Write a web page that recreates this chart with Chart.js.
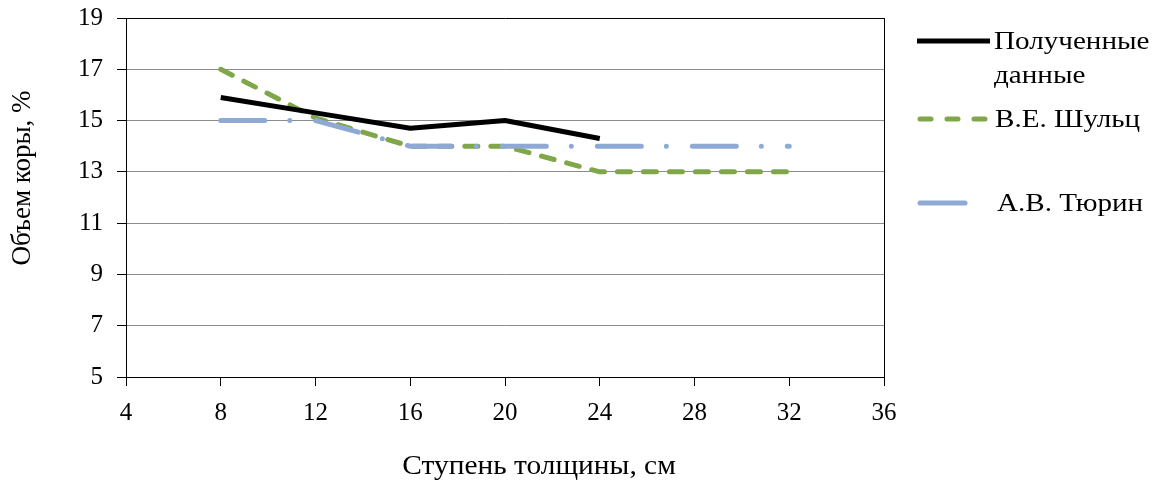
<!DOCTYPE html>
<html>
<head>
<meta charset="utf-8">
<script src="https://cdn.jsdelivr.net/npm/chart.js@4.4.1/dist/chart.umd.min.js"></script>
<style>
  html, body { margin: 0; padding: 0; background: #fff; }
  #chart-container { width: 1159px; height: 481px; }
</style>
</head>
<body>
<div id="chart-container"><canvas id="myChart" width="1159" height="481"></canvas></div>
<script>
// Data
const obtainedX = [8, 12, 16, 20, 24];
const obtainedY = [15.9, 15.3, 14.7, 15.0, 14.3];
const schultzX = [8, 12, 16, 20, 24, 28, 32];
const schultzY = [17, 15.1, 14, 14, 13, 13, 13];
const tyurinX = [8, 12, 16, 20, 24, 28, 32];
const tyurinY = [15, 15, 14, 14, 14, 14, 14];

const seriesNames = ['Полученные данные', 'В.Е. Шульц', 'А.В. Тюрин'];
const xTitle = 'Ступень толщины, см';
const yTitle = 'Объем коры, %';

const FONT = '"Liberation Serif", "Times New Roman", serif';
const GREEN = '#7fa648';
const BLUE = '#8fa9d5';

function toPoints(xs, ys) {
    return xs.map((x, i) => ({ x: x, y: ys[i] }));
}

// text a little wider than the font gives, like the original picture
function wideText(ctx, text, x, y, sx) {
    ctx.save();
    ctx.translate(x, y);
    ctx.scale(sx, 1);
    ctx.fillText(text, 0, 0);
    ctx.restore();
}

// draws the axis titles, the right frame edge and the legend
const extras = {
    id: 'extras',
    afterDraw(chart) {
        const ctx = chart.ctx;
        const area = chart.chartArea;
        ctx.save();

        // right side of the frame
        ctx.strokeStyle = '#000';
        ctx.lineWidth = 1;
        ctx.beginPath();
        const rx = Math.round(area.right) + 0.5;
        ctx.moveTo(rx, Math.round(area.top));
        ctx.lineTo(rx, Math.round(area.bottom) + 1);
        ctx.stroke();

        // axis titles
        ctx.fillStyle = '#000';
        ctx.font = '27px ' + FONT;
        ctx.textAlign = 'center';
        ctx.textBaseline = 'middle';
        wideText(ctx, xTitle, 539, 467, 1.09);
        ctx.save();
        ctx.translate(23, 178);
        ctx.rotate(-Math.PI / 2);
        ctx.fillText(yTitle, 0, 0);
        ctx.restore();

        // legend
        ctx.textAlign = 'left';
        ctx.font = '26px ' + FONT;
        ctx.lineWidth = 5;

        ctx.strokeStyle = '#000';
        ctx.lineCap = 'butt';
        ctx.beginPath();
        ctx.moveTo(917, 41);
        ctx.lineTo(990, 41);
        ctx.stroke();
        wideText(ctx, 'Полученные', 994, 42, 1.12);
        wideText(ctx, 'данные', 994, 76, 1.12);

        ctx.strokeStyle = GREEN;
        ctx.lineCap = 'round';
        ctx.setLineDash([11, 16]);
        ctx.beginPath();
        ctx.moveTo(920, 119);
        ctx.lineTo(985, 119);
        ctx.stroke();
        ctx.setLineDash([]);
        wideText(ctx, 'В.Е. Шульц', 995, 120, 1.12);

        ctx.strokeStyle = BLUE;
        ctx.beginPath();
        ctx.moveTo(920, 203);
        ctx.lineTo(965, 203);
        ctx.stroke();
        wideText(ctx, 'А.В. Тюрин', 997, 204, 1.12);

        ctx.restore();
    }
};

const ctx = document.getElementById('myChart').getContext('2d');
const chart = new Chart(ctx, {
    type: 'line',
    data: {
        datasets: [
            {
                label: seriesNames[0],
                data: toPoints(obtainedX, obtainedY),
                borderColor: '#000',
                borderWidth: 5,
                borderCapStyle: 'butt',
                borderJoinStyle: 'round',
                pointRadius: 0,
                tension: 0,
                order: 0
            },
            {
                label: seriesNames[1],
                data: toPoints(schultzX, schultzY),
                borderColor: GREEN,
                borderWidth: 5,
                borderDash: [13, 13],
                borderCapStyle: 'round',
                borderJoinStyle: 'round',
                pointRadius: 0,
                tension: 0,
                order: 2
            },
            {
                label: seriesNames[2],
                data: toPoints(tyurinX, tyurinY),
                borderColor: BLUE,
                borderWidth: 5,
                borderDash: [44, 25, 0, 26],
                borderCapStyle: 'round',
                borderJoinStyle: 'round',
                pointRadius: 0,
                tension: 0,
                order: 1
            }
        ]
    },
    options: {
        responsive: false,
        animation: false,
        layout: {
            padding: { top: 18, right: 275, left: 0, bottom: 0 }
        },
        plugins: {
            legend: { display: false },
            tooltip: { enabled: false }
        },
        scales: {
            x: {
                type: 'linear',
                min: 4,
                max: 36,
                ticks: {
                    stepSize: 4,
                    color: '#000',
                    padding: 12,
                    font: { family: FONT, size: 25 }
                },
                grid: {
                    drawOnChartArea: false,
                    tickLength: 9,
                    tickColor: '#000'
                },
                border: { color: '#000', width: 1 },
                afterFit(scale) { scale.height = 104; }
            },
            y: {
                min: 5,
                max: 19,
                ticks: {
                    stepSize: 2,
                    color: '#000',
                    padding: 14,
                    font: { family: FONT, size: 25 }
                },
                grid: {
                    color: (c) => (c.tick && (c.tick.value === 19 || c.tick.value === 5)) ? '#000' : '#8c8c8c',
                    tickLength: 9,
                    tickColor: '#000'
                },
                border: { color: '#000', width: 1 },
                afterFit(scale) {
                    scale.width = 126;
                    scale.paddingTop = 0;
                    scale.paddingBottom = 0;
                }
            }
        }
    },
    plugins: [extras]
});
</script>
</body>
</html>
